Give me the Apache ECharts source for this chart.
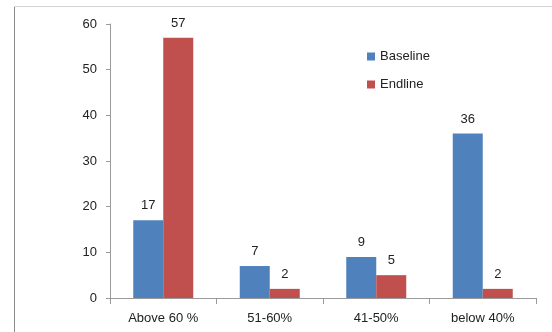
<!DOCTYPE html>
<html>
<head>
<meta charset="utf-8">
<script src="https://cdn.jsdelivr.net/npm/echarts@6/dist/echarts.min.js"></script>
<style>
  html, body { margin: 0; padding: 0; background: #fff; }
  #chart { width: 552px; height: 332px; }
</style>
</head>
<body>
<div id="chart"></div>
<script>
// Score bands and participant counts per survey round
const categories = ['Above 60 %', '51-60%', '41-50%', 'below 40%'];
const baseline = [17, 7, 9, 36];
const endline = [57, 2, 5, 2];
const yTicks = [0, 10, 20, 30, 40, 50, 60];

const chart = echarts.init(document.getElementById('chart'));
const font = 'Liberation Sans';

const labelStyle = {
  show: true,
  position: 'top',
  distance: 8,
  color: '#222',
  fontFamily: font,
  fontSize: 13
};

chart.setOption({
  animation: false,
  textStyle: { fontFamily: font },
  graphic: [
    { type: 'line', shape: { x1: 14.5, y1: 6, x2: 14.5, y2: 332 }, style: { stroke: '#8c8c8c', lineWidth: 1 } },
    { type: 'line', shape: { x1: 14, y1: 6.5, x2: 552, y2: 6.5 }, style: { stroke: '#d4d4d4', lineWidth: 1 } }
  ],
  legend: {
    orient: 'vertical',
    left: 362,
    top: 45,
    itemWidth: 8,
    itemHeight: 8,
    itemGap: 15,
    icon: 'rect',
    textStyle: { fontFamily: font, fontSize: 13, color: '#222' },
    data: ['Baseline', 'Endline']
  },
  grid: { left: 110, right: 16, top: 24, bottom: 34 },
  xAxis: {
    type: 'category',
    data: categories,
    axisLine: { lineStyle: { color: '#9a9a9a' } },
    axisTick: { show: true, length: 6, lineStyle: { color: '#9a9a9a' } },
    axisLabel: { color: '#222', fontFamily: font, fontSize: 13, margin: 14 }
  },
  yAxis: {
    type: 'value',
    min: yTicks[0],
    max: yTicks[yTicks.length - 1],
    interval: 10,
    axisLine: { show: true, lineStyle: { color: '#9a9a9a' } },
    axisTick: { show: true, length: 4, lineStyle: { color: '#9a9a9a' } },
    axisLabel: { color: '#222', fontFamily: font, fontSize: 13, margin: 13 },
    splitLine: { show: false }
  },
  series: [
    {
      name: 'Baseline',
      type: 'bar',
      data: baseline,
      barWidth: 30,
      barGap: '0%',
      itemStyle: { color: '#4F81BD' },
      label: labelStyle
    },
    {
      name: 'Endline',
      type: 'bar',
      data: endline,
      barWidth: 30,
      itemStyle: { color: '#C0504D' },
      label: labelStyle
    }
  ]
});
</script>
</body>
</html>
